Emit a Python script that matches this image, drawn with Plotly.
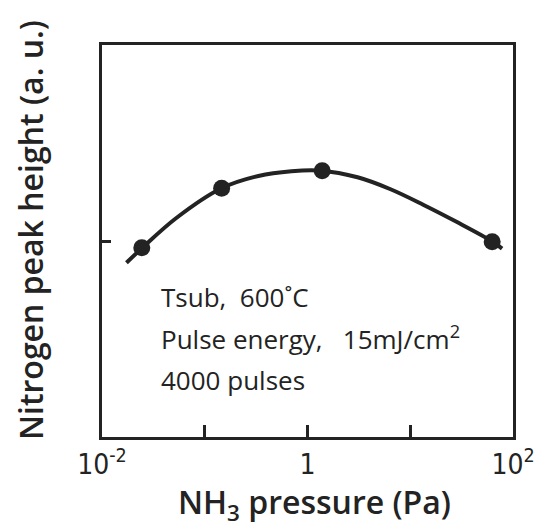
import plotly.graph_objects as go

# measured data points
pressure_pts = [0.0244, 0.146, 1.39, 62.7]
height_pts = [0.966, 1.269, 1.359, 0.996]

# smooth curve
curve_x = [0.0173, 0.0250, 0.0525, 0.1455, 0.333, 0.698, 1.358, 3.07, 6.43, 13.5, 28.2, 61.4, 78.3]
curve_y = [0.889, 0.968, 1.116, 1.269, 1.332, 1.356, 1.359, 1.325, 1.264, 1.184, 1.098, 1.001, 0.961]

x_tickvals = [0.01, 0.1, 1, 10, 100]
x_ticktext = ["10<sup>-2</sup>", "", "1", "", "10<sup>2</sup>"]

notes = ["Tsub,\u00a0\u00a0600˚C", "Pulse energy,\u00a0\u00a0\u00a015mJ/cm<sup>2</sup>", "4000 pulses"]
note_y = [0.357, 0.253, 0.145]

ink = "#232323"
fig = go.Figure()
fig.add_trace(go.Scatter(x=curve_x, y=curve_y, mode="lines",
                         line=dict(color=ink, width=4, shape="spline", smoothing=1.0),
                         hoverinfo="skip", showlegend=False))
fig.add_trace(go.Scatter(x=pressure_pts, y=height_pts, mode="markers",
                         marker=dict(color=ink, size=17), showlegend=False))

font_main = "Open Sans"
font_tick = "Liberation Sans Narrow, DejaVu Sans Condensed, Roboto"
fig.update_layout(
    width=547, height=527,
    margin=dict(l=102, r=29, t=45, b=90),
    paper_bgcolor="white", plot_bgcolor="white",
    xaxis=dict(type="log", range=[-2, 2], tickvals=x_tickvals, ticktext=x_ticktext,
               ticks="inside", ticklen=12, tickwidth=2.8, tickcolor=ink,
               showline=True, mirror=True, linecolor=ink, linewidth=2.8,
               showgrid=False, zeroline=False,
               tickfont=dict(family=font_tick, size=28, color=ink)),
    yaxis=dict(range=[0, 2], tickvals=[1], ticktext=[""],
               ticks="inside", ticklen=9, tickwidth=2.8, tickcolor=ink,
               showline=True, mirror=True, linecolor=ink, linewidth=2.8,
               showgrid=False, zeroline=False),
)

for t, yy in zip(notes, note_y):
    fig.add_annotation(text=t, xref="paper", yref="paper", x=0.139, y=yy,
                       xanchor="left", yanchor="middle", showarrow=False,
                       font=dict(family=font_main, size=26, color=ink))

fig.add_annotation(text="NH<sub>3</sub> pressure (Pa)", xref="paper", yref="paper",
                   x=0.517, y=-0.236, xanchor="center", yanchor="bottom", showarrow=False,
                   font=dict(family=font_main, size=32, color=ink, weight=600))
fig.add_annotation(text="Nitrogen peak height (a. u.)", xref="paper", yref="paper",
                   x=-0.175, y=0.528, xanchor="center", yanchor="middle", textangle=-90,
                   showarrow=False,
                   font=dict(family=font_main, size=32, color=ink, weight=600))

fig.write_html("out.html")
